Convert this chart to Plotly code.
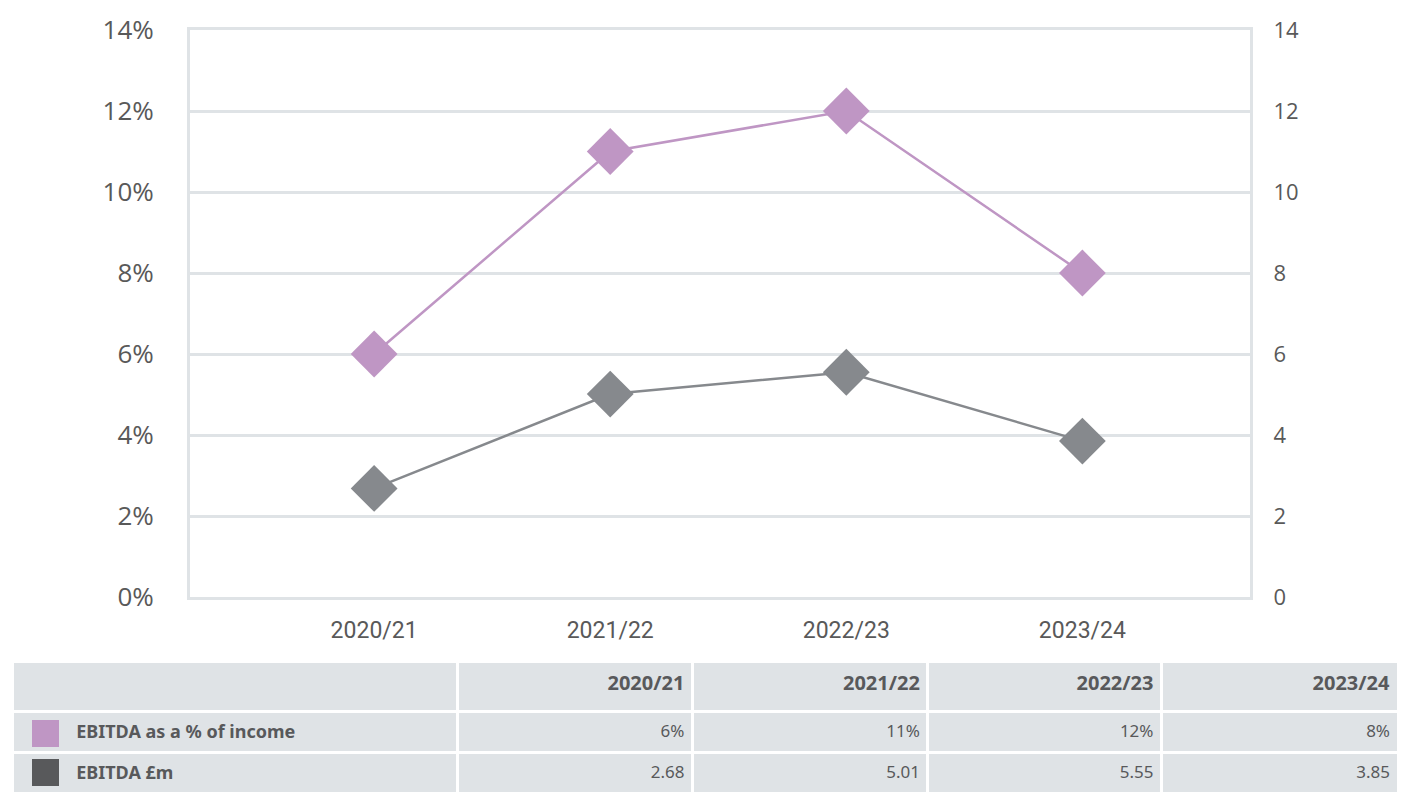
import plotly.graph_objects as go

# Data
years = ["2020/21", "2021/22", "2022/23", "2023/24"]
ebitda_pct = [6, 11, 12, 8]
ebitda_gbp = [2.68, 5.01, 5.55, 3.85]
pct_labels = ["6%", "11%", "12%", "8%"]
gbp_labels = ["2.68", "5.01", "5.55", "3.85"]
row_names = ["EBITDA as a % of income", "EBITDA £m"]

pink = "#bf96c4"
grey = "#86898d"
dark = "#58595b"
frame = "#dfe3e6"
txt = "#595959"

W, H = 1406, 800
OFF = 8  # page body margin


def px_x(v):
    return (v - OFF) / W


def px_y(v):
    return 1 - (v - OFF) / H


fig = go.Figure()

fig.add_trace(go.Scatter(
    x=years, y=ebitda_pct, name=row_names[0], mode="lines+markers",
    line=dict(color=pink, width=2.5),
    marker=dict(symbol="diamond", size=36, color=pink),
    yaxis="y"))

fig.add_trace(go.Scatter(
    x=years, y=ebitda_gbp, name=row_names[1], mode="lines+markers",
    line=dict(color=grey, width=2.5),
    marker=dict(symbol="diamond", size=36, color=grey),
    yaxis="y2"))


# small blank first line pushes the text down to the middle of the cell
def cell(s, size, bold=False):
    s = "<b>" + s + "</b>" if bold else s
    return "<br><span style='font-size:%dpx'>%s</span>" % (size, s)


pad = "\u00a0" * 12
cells_text = [[cell(pad + n, 18, True) for n in row_names]]
for i in range(len(years)):
    cells_text.append([cell(pct_labels[i], 17), cell(gbp_labels[i], 17)])

fig.add_trace(go.Table(
    domain=dict(x=[px_x(12), px_x(1398)], y=[px_y(795), px_y(661)]),
    columnwidth=[443, 233, 234, 232, 235],
    header=dict(
        values=[""] + [cell(y, 20, True) for y in years],
        fill_color=frame, line=dict(color="white", width=3),
        align="right", height=50,
        font=dict(family="Noto Sans", size=11, color=dark)),
    cells=dict(
        values=cells_text,
        fill_color=frame, line=dict(color="white", width=3),
        align=["left", "right", "right", "right", "right"], height=41,
        font=dict(family="Noto Sans", size=12, color=dark)),
))

# legend swatches in the table's first column
for i, c in enumerate([pink, "#58595b"]):
    top = 720 + 39 * i
    fig.add_shape(type="rect", xref="paper", yref="paper",
                  x0=px_x(32), x1=px_x(59), y0=px_y(top + 27), y1=px_y(top),
                  fillcolor=c, line=dict(width=0))

fig.update_layout(
    width=W, height=H,
    margin=dict(l=0, r=0, t=0, b=0),
    paper_bgcolor="white", plot_bgcolor="white",
    showlegend=False,
    font=dict(family="Open Sans", color=txt),
    xaxis=dict(
        domain=[px_x(190), px_x(1250)],
        range=[-0.78, 3.71], automargin=False,
        showgrid=False, showline=True, linecolor=frame, linewidth=3, mirror=True,
        ticks="", tickfont=dict(family="Liberation Sans Narrow, Roboto", size=23, color=txt),
        ticklabelstandoff=10,
    ),
    yaxis=dict(
        domain=[px_y(597), px_y(30)],
        range=[0, 14], dtick=2, ticksuffix="%", automargin=False,
        showgrid=True, gridcolor=frame, gridwidth=3,
        showline=True, linecolor=frame, linewidth=3,
        zeroline=False, ticks="",
        tickfont=dict(size=26, color=txt), ticklabelstandoff=28,
    ),
    yaxis2=dict(
        overlaying="y", side="right", anchor="x", automargin=False,
        range=[0, 14], dtick=2,
        showgrid=False, showline=True, linecolor=frame, linewidth=3,
        zeroline=False, ticks="",
        tickfont=dict(size=22, color=txt), ticklabelstandoff=16,
    ),
)

fig.write_html("out.html")
